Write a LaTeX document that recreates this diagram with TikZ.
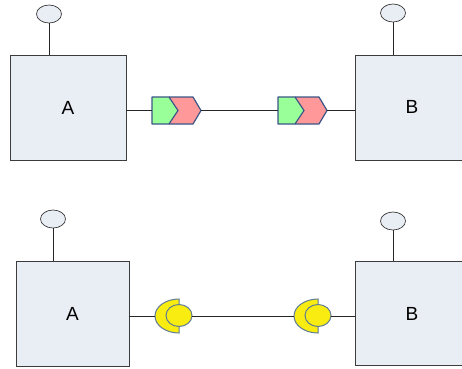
\documentclass[tikz,border=0pt]{standalone}
\usepackage{fontspec}
\setmainfont{Liberation Sans}
\usetikzlibrary{shapes.geometric}
\definecolor{boxfill}{HTML}{E9EDF4}
\definecolor{boxline}{HTML}{3C3C3C}
\definecolor{gfill}{HTML}{99FF99}
\definecolor{rfill}{HTML}{FF9999}
\definecolor{chev}{HTML}{3B5587}
\definecolor{yfill}{HTML}{F8EC10}
\definecolor{yline}{HTML}{5F7B95}
\tikzset{
  blockbox/.style={draw=boxline, line width=0.9pt, fill=boxfill, inner sep=0pt, font=\fontsize{19}{22}\selectfont},
  lbl/.style={font=\fontsize{19}{22}\selectfont},
  antenna/.style={draw=boxline, line width=0.7pt, fill=boxfill, ellipse, inner sep=0pt, minimum width=25pt, minimum height=18pt},
  wire/.style={draw=black!85, line width=0.9pt},
  chevline/.style={draw=chev, line width=1.2pt, line join=round},
  yshape/.style={draw=yline, line width=1pt, fill=yfill},
}
\begin{document}
\begin{tikzpicture}[x=1pt,y=-1pt]
\useasboundingbox (0,0) rectangle (462,368);
% top row
\node[blockbox, minimum width=116pt, minimum height=105pt] (A1) at (68,107.5) {A};
\node[blockbox, minimum width=112pt, minimum height=105pt, anchor=north west] (B1) at (355,55) {};
\node[lbl] (B1l) at (412,107) {B};
\node[antenna] (a1) at (49,14) {};
\node[antenna] (b1) at (393,13) {};
\draw[wire] (a1.south) -- (a1.south |- A1.north);
\draw[wire] (b1.south) -- (b1.south |- B1.north);
% chevrons
\foreach \i/\dx in {1/0,2/126}{
  \begin{scope}[xshift=\dx]
    \fill[rfill] (169,97) -- (193,97) -- (201,110.5) -- (193,124) -- (169,124) -- (178,110.5) -- cycle;
    \fill[gfill] (152,97) -- (169,97) -- (178,110.5) -- (169,124) -- (152,124) -- cycle;
    \draw[chevline] (169,97) -- (193,97) -- (201,110.5) -- (193,124) -- (169,124);
    \draw[chevline] (152,97) -- (169,97) -- (178,110.5) -- (169,124) -- (152,124) -- cycle;
    \coordinate (gin\i) at (152,110.5);
    \coordinate (rout\i) at (201,110.5);
  \end{scope}
}
\draw[wire] (A1.east |- gin1) -- (gin1);
\draw[wire] (rout1) -- (gin2);
\draw[wire] (rout2) -- (B1.west |- rout2);
% bottom row
\node[blockbox, minimum width=113pt, minimum height=105pt] (A2) at (72.5,313.5) {A};
\node[blockbox, minimum width=112pt, minimum height=104pt, anchor=north west] (B2) at (355,261) {};
\node[lbl] (B2l) at (412,314) {B};
\node[antenna] (a2) at (53,219) {};
\node[antenna] (b2) at (393,221) {};
\draw[wire] (a2.south) -- (a2.south |- A2.north);
\draw[wire] (b2.south) -- (b2.south |- B2.north);
% yellow sockets
\foreach \i/\dx in {1/0,2/139}{
  \begin{scope}[xshift=\dx]
    \draw[yshape] (179,299) arc[start angle=-90, end angle=-270, x radius=24, y radius=17] -- cycle;
    \draw[yshape] (179,315.5) ellipse[x radius=13, y radius=11];
    \coordinate (yin\i) at (155,316);
    \coordinate (yout\i) at (192,316);
  \end{scope}
}
\draw[wire] (A2.east |- yin1) -- (yin1);
\draw[wire] (yout1) -- (yin2);
\draw[wire] (yout2) -- (B2.west |- yout2);
\end{tikzpicture}
\end{document}
